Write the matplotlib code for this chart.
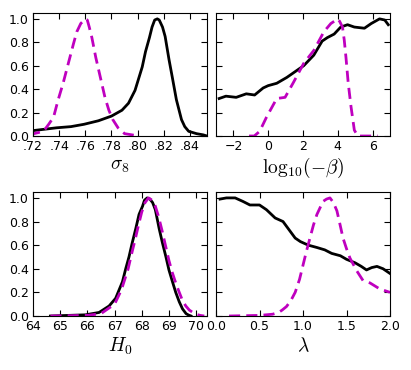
import numpy as np
import matplotlib
matplotlib.use('Agg')
import matplotlib.pyplot as plt
from matplotlib.ticker import FuncFormatter

plt.rcParams['mathtext.fontset'] = 'cm'
plt.rcParams['font.size'] = 9

# sigma_8
s8_x = [0.717, 0.738, 0.749, 0.759, 0.770, 0.780, 0.788, 0.793, 0.798, 0.8035, 0.806, 0.809,
        0.811, 0.813, 0.815, 0.8165, 0.819, 0.821, 0.824, 0.8265, 0.8296, 0.8335, 0.836,
        0.839, 0.845, 0.850, 0.853]
s8_solid = [0.042, 0.07, 0.08, 0.10, 0.13, 0.17, 0.22, 0.28, 0.39, 0.59, 0.72, 0.84,
            0.93, 0.99, 1.0, 0.99, 0.93, 0.85, 0.65, 0.50, 0.31, 0.14, 0.08,
            0.04, 0.02, 0.01, 0.0]
s8_dx = [0.717, 0.728, 0.732, 0.7357, 0.739, 0.743, 0.747, 0.751, 0.7535, 0.7565, 0.760,
         0.7615, 0.763, 0.765, 0.768, 0.7715, 0.775, 0.778, 0.781, 0.785, 0.790, 0.801]
s8_dash = [0.01, 0.04, 0.10, 0.16, 0.30, 0.45, 0.62, 0.79, 0.89, 0.96, 1.0,
           0.99, 0.93, 0.84, 0.67, 0.50, 0.33, 0.22, 0.14, 0.07, 0.02, 0.0]

# log10(-beta)
b_x = [-2.82, -2.43, -1.84, -1.26, -0.78, -0.29, 0.0, 0.49, 1.07, 1.65, 2.04, 2.62, 3.1, 3.4,
       3.79, 4.17, 4.56, 4.95, 5.53, 5.92, 6.4, 6.7, 6.9]
b_solid = [0.32, 0.34, 0.33, 0.36, 0.35, 0.41, 0.43, 0.45, 0.50, 0.56, 0.60, 0.69, 0.81, 0.84,
           0.87, 0.93, 0.95, 0.93, 0.92, 0.96, 1.0, 0.99, 0.95]
b_dx = [-1.1, -0.8, -0.49, -0.1, 0.49, 0.97, 1.46, 2.04, 2.62, 3.2, 3.6, 3.8, 3.98, 4.1,
        4.27, 4.37, 4.47, 4.6, 4.76, 4.95, 5.15, 6.3]
b_dash = [0.0, 0.0, 0.04, 0.16, 0.32, 0.33, 0.46, 0.62, 0.73, 0.89, 0.96, 0.98, 1.0, 0.98,
          0.93, 0.82, 0.67, 0.45, 0.25, 0.05, 0.0, 0.0]

# H0
h_x = [64.64, 65.93, 66.43, 66.8, 67.04, 67.29, 67.41, 67.53, 67.65, 67.78, 67.9, 68.03,
       68.1, 68.2, 68.3, 68.4, 68.5, 68.64, 68.76, 68.89, 69.0, 69.13, 69.25, 69.38, 69.5,
       69.63, 69.72, 69.81]
h_solid = [0.0, 0.01, 0.03, 0.085, 0.15, 0.29, 0.40, 0.5, 0.62, 0.74, 0.86, 0.93,
           0.98, 1.0, 0.99, 0.96, 0.90, 0.74, 0.62, 0.5, 0.39, 0.29, 0.20, 0.12, 0.06,
           0.02, 0.008, 0.0]
h_dx = [64.64, 66.0, 66.5, 67.0, 67.25, 67.5, 67.62, 67.75, 67.88, 68.0, 68.12, 68.25,
        68.38, 68.5, 68.62, 68.75, 69.0, 69.12, 69.25, 69.38, 69.5, 69.62, 69.75, 69.88,
        70.0, 70.15, 70.3]
h_dash = [0.0, 0.005, 0.02, 0.10, 0.22, 0.40, 0.52, 0.64, 0.77, 0.88, 0.96, 1.0,
          0.98, 0.93, 0.84, 0.72, 0.47, 0.37, 0.28, 0.20, 0.13, 0.085, 0.05, 0.03,
          0.015, 0.005, 0.0]

# lambda
l_x = [0.046, 0.12, 0.22, 0.31, 0.39, 0.5, 0.58, 0.68, 0.77, 0.83, 0.91, 0.97, 1.06, 1.16,
       1.25, 1.33, 1.43, 1.5, 1.6, 1.67, 1.73, 1.79, 1.85, 1.92, 2.0]
l_solid = [0.99, 1.0, 1.0, 0.97, 0.94, 0.94, 0.90, 0.83, 0.80, 0.74, 0.66, 0.63, 0.60, 0.58,
           0.56, 0.53, 0.51, 0.48, 0.45, 0.42, 0.39, 0.41, 0.42, 0.40, 0.36]
l_dx = [0.15, 0.5, 0.65, 0.72, 0.76, 0.81, 0.86, 0.91, 0.96, 1.0, 1.04, 1.08, 1.12, 1.16,
        1.23, 1.27, 1.31, 1.35, 1.39, 1.43, 1.46, 1.5, 1.54, 1.62, 1.69, 1.77, 1.88, 2.0]
l_dash = [0.0, 0.005, 0.015, 0.03, 0.05, 0.08, 0.13, 0.2, 0.31, 0.43, 0.55, 0.66, 0.77, 0.86,
          0.97, 0.99, 1.0, 0.96, 0.89, 0.76, 0.66, 0.57, 0.49, 0.38, 0.30, 0.28, 0.23, 0.2]

fig = plt.figure(figsize=(4.11, 3.70), dpi=100)
W, H = 411, 370
def box(l, r, t, b):
    return [l / W, 1 - b / H, (r - l) / W, (b - t) / H]

panels = [
    (box(33, 207, 13, 136), s8_x, s8_solid, s8_dx, s8_dash, (0.72, 0.853),
     np.arange(0.72, 0.845, 0.02), r'$\sigma_8$', True),
    (box(216, 390, 13, 136), b_x, b_solid, b_dx, b_dash, (-3, 7),
     [-2, 0, 2, 4, 6], r'$\mathrm{log}_{10}(-\beta)$', False),
    (box(33, 207, 192, 316), h_x, h_solid, h_dx, h_dash, (64, 70.4),
     range(64, 71), r'$H_0$', True),
    (box(216, 390, 192, 316), l_x, l_solid, l_dx, l_dash, (0, 2),
     [0, 0.5, 1.0, 1.5, 2.0], r'$\lambda$', False),
]

for i, (pos, x1, y1, x2, y2, xl, xt, lab, ylab) in enumerate(panels):
    ax = fig.add_axes(pos)
    ax.plot(x1, y1, color='k', lw=2)
    ax.plot(x2, y2, color=(0.75, 0, 0.75), lw=2, ls='--', dashes=(4, 2.2))
    ax.set_xlim(*xl)
    ax.set_ylim(0, 1.05)
    ax.set_xticks(list(xt))
    ax.set_yticks([0, 0.2, 0.4, 0.6, 0.8, 1.0])
    ax.tick_params(direction='in', top=True, right=True, length=4, labelsize=9, pad=3)
    if i == 0:
        ax.xaxis.set_major_formatter(FuncFormatter(lambda v, p: ('%.2f' % v).lstrip('0')))
    elif i == 3:
        ax.xaxis.set_major_formatter(FuncFormatter(lambda v, p: '%.1f' % v))
    if not ylab:
        ax.set_yticklabels([])
    else:
        ax.yaxis.set_major_formatter(FuncFormatter(lambda v, p: '%.1f' % v))
    ax.set_xlabel(lab, fontsize=14, labelpad=2)

fig.savefig('out.png', dpi=100)
